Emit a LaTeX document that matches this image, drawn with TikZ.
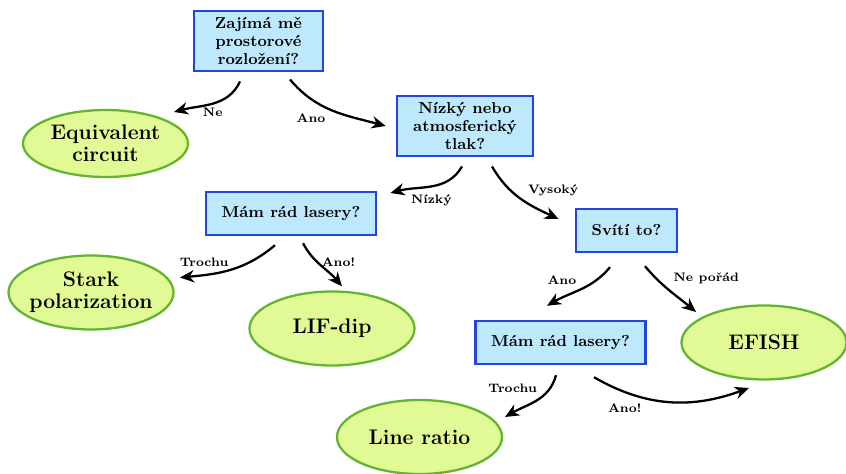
\documentclass[tikz,border=0pt]{standalone}
\usepackage{tikz}
\usetikzlibrary{arrows.meta,shapes.geometric,positioning}
\definecolor{qfill}{RGB}{190,232,252}
\definecolor{qdraw}{RGB}{35,70,225}
\definecolor{afill}{RGB}{225,250,150}
\definecolor{adraw}{RGB}{100,180,50}

\begin{document}
\begin{tikzpicture}[
    qbox/.style   = {rectangle, draw=qdraw, fill=qfill, line width=1.4pt,
                     inner xsep=9pt, inner ysep=4pt, minimum height=0.86cm,
                     align=center, font=\fontsize{9}{10}\selectfont\bfseries},
    answer/.style = {ellipse, draw=adraw, fill=afill, line width=1.3pt,
                     minimum width=3.3cm, minimum height=1.48cm, inner sep=1pt,
                     align=center, font=\fontsize{12}{12.5}\selectfont\bfseries},
    arr/.style    = {-{Stealth[length=8pt,width=7pt,inset=2.5pt]}, line width=1.3pt},
    lbl/.style    = {font=\scriptsize\bfseries, inner sep=2pt},
    on grid
  ]
    \useasboundingbox (-5.17,0.82) rectangle (11.75,-8.66);

    \node[qbox, minimum width=2.58cm] (prostor) {Zajímá mě\\prostorové\\rozložení?};
    \node[answer, minimum height=1.34cm, below left=2.05cm and 3.06cm of prostor] (circuit) {Equivalent\\circuit};
    \node[qbox, minimum width=2.72cm, below right=1.70cm and 4.13cm of prostor] (tlak) {Nízký nebo\\atmosferický\\tlak?};

    \node[qbox, below left=1.75cm and 3.48cm of tlak]  (laser1) {Mám rád lasery?};
    \node[qbox, below right=2.09cm and 3.23cm of tlak] (sviti)  {Svítí to?};

    \node[answer, inner xsep=-2pt, below left=1.58cm and 4.0cm of laser1] (stark) {Stark\\polarization};
    \node[answer, below right=2.30cm and 0.82cm of laser1] (lif)   {LIF-dip};

    \node[qbox, below left=2.24cm and 1.32cm of sviti]     (laser2) {Mám rád lasery?};
    \node[answer, below right=2.24cm and 2.75cm of sviti]  (efish)  {EFISH};
    \node[answer, below left=1.89cm and 2.82cm of laser2]  (ratio)  {Line ratio};

    \draw[arr] ([shift={(-0.37,-0.18)}]prostor.south) to[out=245, in=15]
        node[lbl, pos=0.5, below] {Ne} ([shift={(1.37,0.63)}]circuit.center);
    \draw[arr] ([shift={(0.63,-0.14)}]prostor.south) to[out=-50, in=165]
        node[lbl, pos=0.47, below left] {Ano} ([shift={(-0.20,0)}]tlak.west);
    \draw[arr] ([shift={(-0.06,-0.18)}]tlak.south) to[out=240, in=15]
        node[lbl, pos=0.5, below=2pt] {Nízký} ([shift={(0.26,0.41)}]laser1.east);
    \draw[arr] ([shift={(0.54,-0.18)}]tlak.south) to[out=-60, in=155]
        node[lbl, pos=0.55, above right] {Vysoký} ([shift={(-0.32,0.23)}]sviti.west);
    \draw[arr] ([shift={(-0.32,-0.18)}]laser1.south) to[out=220, in=5]
        node[lbl, pos=0.78, above=2pt] {Trochu} ([shift={(1.78,0.30)}]stark.center);
    \draw[arr] ([shift={(0.24,-0.14)}]laser1.south) to[out=-62, in=130]
        node[lbl, pos=0.4, right] {Ano!} ([shift={(0.20,0.08)}]lif.north);
    \draw[arr] ([shift={(-0.33,-0.28)}]sviti.south) to[out=230, in=30]
        node[lbl, pos=0.5, above left] {Ano} ([shift={(-0.27,0.28)}]laser2.north);
    \draw[arr] ([shift={(0.37,-0.26)}]sviti.south) to[out=-50, in=140]
        node[lbl, pos=0.42, above right=-1pt and 2pt] {Ne pořád} ([shift={(-1.36,0.61)}]efish.center);
    \draw[arr] ([shift={(-0.09,-0.20)}]laser2.south) to[out=255, in=30]
        node[lbl, pos=0.4, above left] {Trochu} ([shift={(1.71,0.40)}]ratio.center);
    \draw[arr] ([shift={(0.67,-0.24)}]laser2.south) to[out=-30, in=200]
        node[lbl, pos=0.2, below=4pt] {Ano!} ([shift={(-0.30,-0.91)}]efish.center);
  \end{tikzpicture}
\end{document}
